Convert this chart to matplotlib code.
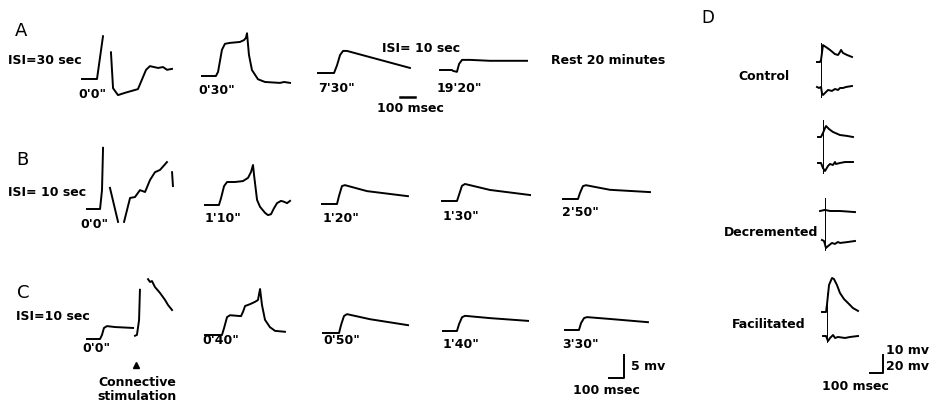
import numpy as np
import matplotlib
matplotlib.use('Agg')
import matplotlib.pyplot as plt
from matplotlib.transforms import Affine2D

nan = np.nan

# ---- traces: time in msec, potential in mV (relative to trace start) ----
# row A, ISI = 30 sec
a_t0 = [0, 100, 140, nan, 193, 207, 240, 287, 373, 427, 453, 507, 540, 567, 600]
a_v0 = [0, 0, 9.3, nan, 5.8, -2.0, -3.5, -3.0, -2.2, 2.0, 2.8, 2.4, 2.6, 2.0, 2.2]
a_t1 = [0, 93, 107, 133, 153, 187, 253, 280, 293, 300, 313, 333, 373, 420, 520, 547, 587]
a_v1 = [0, 0, 0.9, 5.7, 7.0, 7.2, 7.4, 7.8, 8.3, 9.3, 4.6, 1.3, -0.7, -1.3, -1.5, -1.3, -1.5]
a_t2 = [0, 107, 127, 147, 167, 193, 613]
a_v2 = [0, 0, 1.7, 3.9, 4.8, 4.8, 1.1]
a_t3 = [0, 80, 87, 113, 127, 147, 200, 333, 580]
a_v3 = [0, 0, -0.2, -0.4, 1.3, 2.2, 2.2, 2.0, 2.0]

# row B, ISI = 10 sec
b_t0 = [0, 87, 100, 107, nan, 153, 180, 207, nan, 247, 267, 287, 320, 353, 387, 420,
        453, 487, 533, nan, 567, 573]
b_v0 = [0, 0, 4.1, 13.3, nan, 4.6, 0.9, -2.8, nan, -2.8, -0.2, 2.4, 2.6, 4.1, 3.7, 6.3,
        8.0, 8.5, 10.2, nan, 8.0, 5.0]
b_t1 = [0, 93, 107, 127, 147, 200, 253, 287, 307, 320, 327, 347, 367, 400, 420, 440,
        460, 480, 507, 527, 547, 567]
b_v1 = [0, 0, 1.5, 4.1, 5.0, 5.0, 5.2, 5.9, 7.2, 8.7, 6.5, 1.1, -0.4, -1.7, -2.2, -2.0,
        -0.7, 0.4, 0.9, 0.7, 0.4, 0.9]
b_t2 = [0, 100, 113, 133, 153, 300, 573]
b_v2 = [0, 0, 1.7, 3.9, 4.1, 2.8, 1.7]
b_t3 = [0, 100, 113, 133, 153, 320, 587]
b_v3 = [0, 0, 1.3, 3.3, 3.7, 2.4, 1.3]
b_t4 = [0, 100, 113, 133, 153, 313, 580]
b_v4 = [0, 0, 1.3, 2.8, 3.0, 2.0, 1.5]

# row C, ISI = 10 sec, connective stimulation
c_t0 = [0, 87, 100, 113, 133, 187, 307, nan, 320, 333, 347, 353, nan, 407, 420, 433,
        453, 487, 520, 540, 567]
c_v0 = [0, 0, 0.9, 2.4, 2.8, 2.6, 2.4, nan, 0.7, 0.9, 4.1, 10.7, nan, 13.0, 12.4, 12.6,
        11.3, 10.0, 8.5, 7.4, 6.3]
c_t1 = [0, 113, 127, 147, 167, 240, 253, 267, 300, 333, 353, 367, 380, 400, 433, 467, 533]
c_v1 = [0, 0, 1.5, 3.9, 4.3, 4.1, 5.0, 6.3, 6.7, 7.2, 7.6, 10.0, 6.5, 3.3, 1.7, 0.9, 0.7]
c_t2 = [0, 107, 120, 140, 160, 313, 567]
c_v2 = [0, 0, 1.7, 3.7, 4.1, 3.0, 1.7]
c_t3 = [0, 93, 107, 127, 147, 313, 567]
c_v3 = [0, 0, 1.5, 3.0, 3.3, 2.8, 2.2]
c_t4 = [0, 93, 107, 127, 147, 300, 553]
c_v4 = [0, 0, 1.5, 2.6, 2.8, 2.4, 1.7]
c_stim = 327  # msec, connective stimulation

# panel D: upper trace (10 mV scale), lower trace (20 mV scale)
d_up_t = [
    [0, 23, 31, 46, 69, 100, 138, 162, 177, 185, 200, 231, 269],
    [0, 23, 38, 54, 62, 85, 115, 169, 223, 269],
    [0, 38, 77, 154, 269],
    [0, 31, 38, 54, 77, 92, 115, 138, 169, 200, 238, 277],
]
d_up_v = [
    [0, 0, 1.1, 9.4, 8.3, 6.7, 4.4, 3.9, 5.6, 6.7, 5.0, 3.9, 2.8],
    [0, 0, 2.2, 5.0, 6.1, 4.4, 2.8, 1.1, 0.6, 0],
    [0, 0.6, 0, 0, -0.6],
    [0, 0, 3.9, 15.0, 18.9, 18.3, 15.0, 10.6, 7.2, 5.0, 2.2, 0.6],
]
d_lo_t = [
    [0, 15, 31, 38, 46, 69, 85, 115, 138, 162, 177, 200, 223, 269],
    [0, 23, 38, 54, 77, 92, 115, 131, 138, 169, 208, 269],
    [15, 31, 46, 62, 92, 115, 138, 154, 215, 269],
    [8, 31, 46, 62, 85, 100, 123, 177, 215, 277],
]
d_lo_v = [
    [0, -1.1, 0, -6.7, -8.9, -5.6, -3.3, -4.4, -2.2, -3.3, -1.1, -1.1, 0, 1.1],
    [0, 0, -5.6, -8.9, -3.3, -1.1, -2.2, 1.1, -1.1, 0, 1.1, 1.1],
    [0, -1.1, -8.9, -6.7, -3.3, -4.4, -2.2, -3.3, -2.2, -1.1],
    [0, 0, -5.6, -2.2, 1.1, -2.2, -1.1, -2.2, -1.1, 0],
]
d_stim_t = [31, 38, 38, 38]
d_labels = ['Control', '', 'Decremented', 'Facilitated']

time_labels = {
    'A': ["0'0\"", "0'30\"", "7'30\"", "19'20\""],
    'B': ["0'0\"", "1'10\"", "1'20\"", "1'30\"", "2'50\""],
    'C': ["0'0\"", "0'40\"", "0'50\"", "1'40\"", "3'30\""],
}
isi_labels = {'A': 'ISI=30 sec', 'B': 'ISI= 10 sec', 'C': 'ISI=10 sec'}

# ---- layout (pixels) ----
SX, SY = 0.15, 4.6          # px per msec, px per mV  (panels A-C)
DSX, DSY = 0.13, 1.8        # panel D

traces = {
    'A': [(a_t0, a_v0), (a_t1, a_v1), (a_t2, a_v2), (a_t3, a_v3)],
    'B': [(b_t0, b_v0), (b_t1, b_v1), (b_t2, b_v2), (b_t3, b_v3), (b_t4, b_v4)],
    'C': [(c_t0, c_v0), (c_t1, c_v1), (c_t2, c_v2), (c_t3, c_v3), (c_t4, c_v4)],
}
origins = {
    'A': [(82, 79), (202, 76), (318, 73), (440, 70)],
    'B': [(87, 209), (205, 205), (322, 204), (442, 201), (563, 199)],
    'C': [(87, 339), (205, 335), (323, 333), (443, 331), (565, 330)],
}
label_pos = {
    'A': [(78, 95), (198, 90), (318, 88), (437, 88)],
    'B': [(80, 225), (205, 219), (323, 219), (443, 216), (562, 213)],
    'C': [(82, 349), (202, 341), (323, 341), (443, 344), (562, 344)],
}
letter_pos = {'A': (15, 31), 'B': (16, 160), 'C': (17, 293)}
isi_pos = {'A': (8, 60), 'B': (8, 193), 'C': (16, 317)}

d_up_origin = [(817, 62), (818, 137), (820, 211), (822, 312)]
d_lo_origin = [(817, 87), (818, 163), (820, 240), (822, 336)]
d_stim_span = [(43, 97), (120, 173), (198, 250), (293, 342)]
d_label_pos = [(738, 77), (0, 0), (724, 232), (732, 325)]

fig = plt.figure(figsize=(9.46, 4.08), dpi=100)
ax = fig.add_axes([0, 0, 1, 1])
ax.set_xlim(0, 946)
ax.set_ylim(408, 0)
ax.axis('off')

FONT = dict(family='DejaVu Sans', fontweight='bold', fontsize=9, color='black')
LW = 1.4


def place(x0, y0, sx, sy):
    return Affine2D().scale(sx, -sy).translate(x0, y0) + ax.transData


for row in ['A', 'B', 'C']:
    for (t, v), (x0, y0) in zip(traces[row], origins[row]):
        ax.plot(t, v, color='black', lw=LW, transform=place(x0, y0, SX, SY))
    for txt, (x, y) in zip(time_labels[row], label_pos[row]):
        ax.text(x, y, txt, ha='left', va='center', **FONT)
    lx, ly = letter_pos[row]
    ax.text(lx, ly, row, ha='left', va='center', family='DejaVu Sans', fontsize=13)
    ix, iy = isi_pos[row]
    ax.text(ix, iy, isi_labels[row], ha='left', va='center', **FONT)

ax.text(382, 48, 'ISI= 10 sec', ha='left', va='center', **FONT)
ax.text(551, 61, 'Rest 20 minutes', ha='left', va='center', **FONT)

# scale bar in row A
ax.plot([0, 100], [0, 0], color='black', lw=1.8, transform=place(400, 97, SX, SY))
ax.text(410, 108, '100 msec', ha='center', va='center', **FONT)

# connective stimulation marker
ax.plot([c_stim], [0], marker='^', ms=4, color='black',
        transform=place(87, 365, SX, SY))
ax.text(98, 383, 'Connective', ha='left', va='center', **FONT)
ax.text(97, 396, 'stimulation', ha='left', va='center', **FONT)

# scale bar rows B-C
ax.plot([0, 100, 100], [0, 0, 5], color='black', lw=1.4, transform=place(609, 378, SX, SY))
ax.text(631, 366, '5 mv', ha='left', va='center', **FONT)
ax.text(573, 391, '100 msec', ha='left', va='center', **FONT)

# panel D
ax.text(701, 18, 'D', ha='left', va='center', family='DejaVu Sans', fontsize=12)
for i in range(4):
    ux, uy = d_up_origin[i]
    lx, ly = d_lo_origin[i]
    ax.plot(d_up_t[i], d_up_v[i], color='black', lw=LW, transform=place(ux, uy, DSX, DSY))
    ax.plot(d_lo_t[i], d_lo_v[i], color='black', lw=LW, transform=place(lx, ly, DSX, DSY / 2))
    top, bot = d_stim_span[i]
    sx = ux + d_stim_t[i] * DSX
    ax.plot([sx, sx], [top, bot], color='black', lw=0.7)
    if d_labels[i]:
        px, py = d_label_pos[i]
        ax.text(px, py, d_labels[i], ha='left', va='center', **FONT)

ax.plot([0, 100, 100], [0, 0, 10], color='black', lw=1.4, transform=place(870, 373, DSX, DSY))
ax.text(886, 350, '10 mv', ha='left', va='center', **FONT)
ax.text(886, 367, '20 mv', ha='left', va='center', **FONT)
ax.text(822, 387, '100 msec', ha='left', va='center', **FONT)

fig.savefig('out.png', dpi=100)
